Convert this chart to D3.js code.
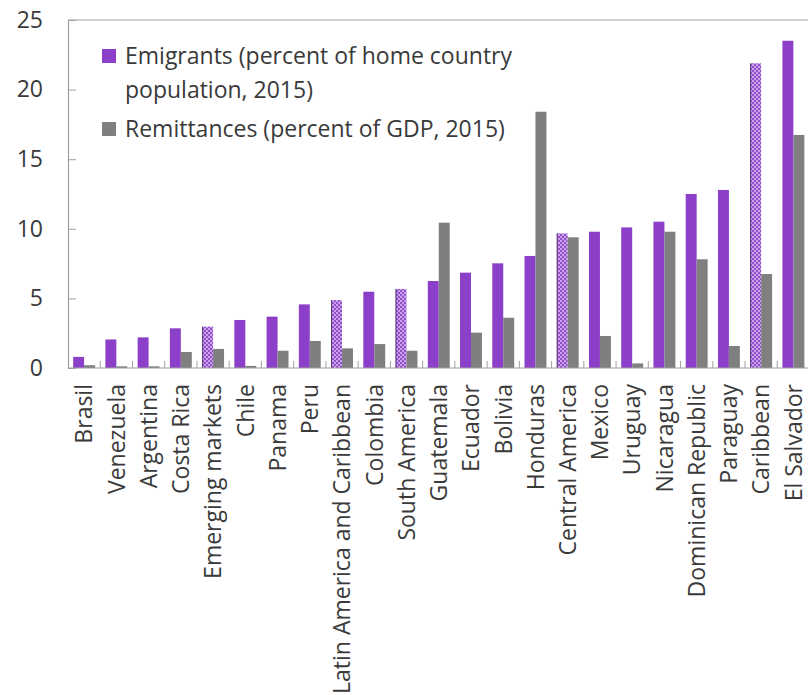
<!DOCTYPE html>
<html>
<head>
<meta charset="utf-8">
<script src="https://cdn.jsdelivr.net/npm/d3@7"></script>
<style>
  html, body { margin: 0; padding: 0; background: #fff; }
  svg { display: block; }
  text { font-family: "Open Sans", "Noto Sans", sans-serif; fill: #3a3a3a; }
</style>
</head>
<body>
<svg id="chart" width="808" height="695"></svg>
<script>
const categories = ["Brasil","Venezuela","Argentina","Costa Rica","Emerging markets","Chile","Panama","Peru",
  "Latin America and Caribbean","Colombia","South America","Guatemala","Ecuador","Bolivia","Honduras",
  "Central America","Mexico","Uruguay","Nicaragua","Dominican Republic","Paraguay","Caribbean","El Salvador"];
const emigrants = [0.8, 2.05, 2.2, 2.85, 2.97, 3.45, 3.69, 4.57, 4.88, 5.48, 5.68, 6.25, 6.85, 7.52, 8.05,
  9.67, 9.79, 10.1, 10.51, 12.5, 12.79, 21.89, 23.51];
const remittances = [0.2, 0.12, 0.12, 1.15, 1.37, 0.15, 1.24, 1.94, 1.41, 1.72, 1.24, 10.44, 2.54, 3.61, 18.41,
  9.39, 2.3, 0.33, 9.79, 7.81, 1.58, 6.75, 16.74];
const aggregates = ["Emerging markets","Latin America and Caribbean","South America","Central America","Caribbean"];
const yTicks = [0, 5, 10, 15, 20, 25];
const seriesNames = ["Emigrants (percent of home country|population, 2015)", "Remittances (percent of GDP, 2015)"];

(function () {
const purple = "#8c3fc8";
const grey = "#7f7f7f";
const axisGrey = "#a0a0a0";
const textCol = "#3a3a3a";

const svg = d3.select("#chart");
const mLeft = 68, mRight = 809.5, mTop = 20, mBottom = 368;

const x = d3.scaleBand().domain(categories).range([mLeft, mRight]).paddingInner(0).paddingOuter(0);
const x1 = d3.scaleBand().domain(["e", "r"]).range([0, x.bandwidth()]).paddingInner(0).paddingOuter(0.47);
const y = d3.scaleLinear().domain([0, 25]).range([mBottom, mTop]);

const defs = svg.append("defs");
const pat = defs.append("pattern").attr("id", "agg").attr("patternUnits", "userSpaceOnUse")
  .attr("width", 4).attr("height", 4);
pat.append("rect").attr("width", 4).attr("height", 4).attr("fill", "#9450cc");
pat.append("rect").attr("x", 0).attr("y", 0).attr("width", 2).attr("height", 2).attr("fill", "#c9a2ea");
pat.append("rect").attr("x", 2).attr("y", 2).attr("width", 2).attr("height", 2).attr("fill", "#c9a2ea");

svg.append("line").attr("x1", mLeft).attr("x2", 808).attr("y1", y(25)).attr("y2", y(25))
  .attr("stroke", axisGrey).attr("stroke-width", 1.2);

const data = categories.map((c, i) => ({ c, e: emigrants[i], r: remittances[i], agg: aggregates.includes(c) }));
const g = svg.append("g");
g.selectAll("rect.e").data(data).join("rect").attr("class", "e")
  .attr("x", d => x(d.c) + x1("e")).attr("width", x1.bandwidth())
  .attr("y", d => y(d.e)).attr("height", d => y(0) - y(d.e))
  .attr("fill", d => d.agg ? "url(#agg)" : purple);
g.selectAll("line.aggedge").data(data.filter(d => d.agg)).join("line").attr("class", "aggedge")
  .attr("x1", d => x(d.c) + x1("e") + 0.5).attr("x2", d => x(d.c) + x1("e") + 0.5)
  .attr("y1", d => y(d.e)).attr("y2", y(0))
  .attr("stroke", "#5a3378").attr("stroke-width", 1);
g.selectAll("rect.r").data(data).join("rect").attr("class", "r")
  .attr("x", d => x(d.c) + x1("r")).attr("width", x1.bandwidth())
  .attr("y", d => y(d.r)).attr("height", d => y(0) - y(d.r))
  .attr("fill", grey);

const yAxis = d3.axisLeft(y).tickValues(yTicks).tickSize(-8).tickPadding(25).tickFormat(d3.format("d"));
const ya = svg.append("g").attr("transform", `translate(${mLeft},0)`).call(yAxis);
ya.select(".domain").attr("stroke", axisGrey).attr("stroke-width", 1.2);
ya.selectAll(".tick line").attr("stroke", axisGrey);
ya.selectAll(".tick text").attr("font-size", 23).attr("fill", textCol)
  .style("font-family", '"Open Sans", sans-serif');

const xAxis = d3.axisBottom(x).tickSize(0).tickPadding(0);
const xa = svg.append("g").attr("transform", `translate(0,${mBottom})`).call(xAxis);
xa.select(".domain").remove();
xa.selectAll(".tick text")
  .attr("font-size", 23).attr("fill", textCol)
  .style("font-family", '"Open Sans", sans-serif')
  .attr("transform", "rotate(-90)")
  .attr("text-anchor", "end")
  .attr("x", -16).attr("y", 0).attr("dy", "0.36em");
svg.append("line").attr("x1", mLeft).attr("x2", 808).attr("y1", mBottom).attr("y2", mBottom)
  .attr("stroke", axisGrey).attr("stroke-width", 1.2);
svg.append("g").selectAll("line").data(categories.slice(1)).join("line")
  .attr("x1", d => x(d)).attr("x2", d => x(d))
  .attr("y1", mBottom).attr("y2", mBottom - 7)
  .attr("stroke", axisGrey).attr("stroke-width", 1);

const lg = svg.append("g");
const lines1 = seriesNames[0].split("|");
lg.append("rect").attr("x", 102).attr("y", 49).attr("width", 14).attr("height", 14).attr("fill", purple);
lg.append("text").attr("x", 125).attr("y", 64).attr("font-size", 23).text(lines1[0]);
lg.append("text").attr("x", 125).attr("y", 98).attr("font-size", 23).text(lines1[1]);
lg.append("rect").attr("x", 102).attr("y", 122).attr("width", 14).attr("height", 14).attr("fill", grey);
lg.append("text").attr("x", 125).attr("y", 137).attr("font-size", 23).text(seriesNames[1]);
})();
</script>
</body>
</html>
